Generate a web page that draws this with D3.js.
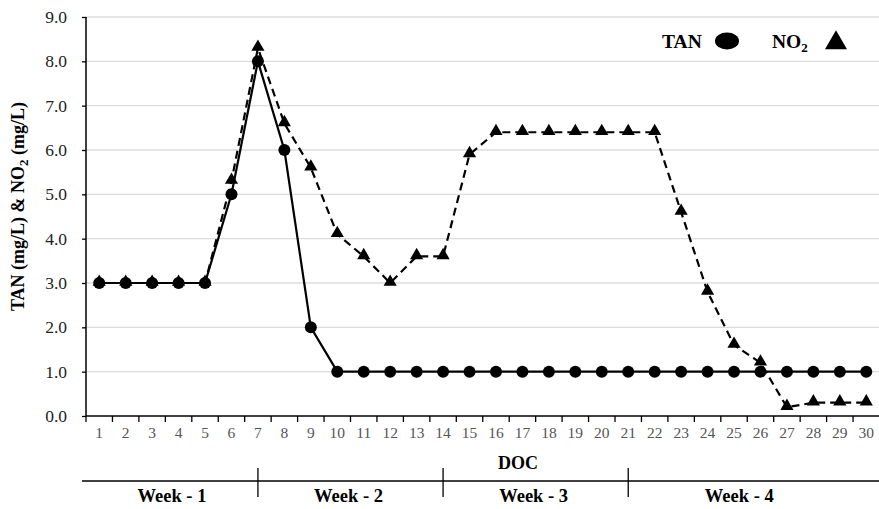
<!DOCTYPE html>
<html><head><meta charset="utf-8">
<script src="https://cdn.jsdelivr.net/npm/d3@7"></script>
<style>body{margin:0;background:#fff}svg{display:block}</style>
</head><body>
<svg id="c" width="879" height="509"></svg>
<script>
const days = d3.range(1, 31);
const tan = [3,3,3,3,3,5,8,6,2,1,1,1,1,1,1,1,1,1,1,1,1,1,1,1,1,1,1,1,1,1];
const no2 = [3,3,3,3,3,5.3,8.3,6.6,5.6,4.1,3.6,3.0,3.6,3.6,5.9,6.4,6.4,6.4,6.4,6.4,6.4,6.4,4.6,2.8,1.6,1.2,0.2,0.3,0.3,0.3];
const yTicks = [0,1,2,3,4,5,6,7,8,9];
const weeks = [{label:"Week - 1", from:1, to:7},{label:"Week - 2", from:7, to:14},{label:"Week - 3", from:14, to:21},{label:"Week - 4", from:21, to:30}];

const svg = d3.select("#c");
const font = "'Liberation Serif', 'Times New Roman', serif";
const L = 86, R = 879.5, T = 17, B = 416;
const x = d3.scaleBand().domain(days).range([L, R]);
const xc = d => x(d) + x.bandwidth()/2;
const y = d3.scaleLinear().domain([0, 9]).range([B, T]);

// gridlines
svg.append("g").selectAll("line").data(yTicks.filter(t=>t>0)).join("line")
  .attr("x1", L).attr("x2", 879).attr("y1", d=>y(d)).attr("y2", d=>y(d))
  .attr("stroke", "#dcdcdc").attr("stroke-width", 1.3);

// y axis
const ya = svg.append("g").attr("transform", `translate(${L},0)`)
  .call(d3.axisLeft(y).tickValues(yTicks).tickFormat(d3.format(".1f")).tickSize(4).tickPadding(15));
ya.select(".domain").attr("stroke", "#000").attr("stroke-width", 1.5).attr("d", `M0,${T}V${B}`);
ya.selectAll(".tick line").attr("stroke", "#000").attr("stroke-width", 1.3);
ya.selectAll("text").attr("font-family", font).attr("font-size", 17.5).attr("fill", "#222");

// x axis
const xa = svg.append("g").attr("transform", `translate(0,${B})`)
  .call(d3.axisBottom(x).tickSize(0).tickPadding(11));
xa.select(".domain").attr("stroke", "#000").attr("stroke-width", 1.5).attr("d", `M${L},0H879`);
xa.selectAll("text").attr("font-family", font).attr("font-size", 15.5).attr("fill", "#555");
svg.append("g").selectAll("line").data(d3.range(0, 30)).join("line")
  .attr("x1", i => L + i*x.step()).attr("x2", i => L + i*x.step())
  .attr("y1", B).attr("y2", B + 6).attr("stroke", "#000").attr("stroke-width", 1.3);

// lines
const line = d3.line().x((d,i)=>xc(days[i])).y(d=>y(d));
svg.append("path").attr("d", line(no2)).attr("fill", "none").attr("stroke", "#000")
  .attr("stroke-width", 2.2).attr("stroke-dasharray", "8,5");
svg.append("path").attr("d", line(tan)).attr("fill", "none").attr("stroke", "#000").attr("stroke-width", 2.2);

// markers
const tri = d3.symbol().type(d3.symbolTriangle).size(75);
svg.append("g").selectAll("path").data(no2).join("path")
  .attr("d", tri).attr("transform", (d,i)=>`translate(${xc(days[i])},${y(d)-1})`).attr("fill", "#000");
svg.append("g").selectAll("circle").data(tan).join("circle")
  .attr("cx", (d,i)=>xc(days[i])).attr("cy", d=>y(d)).attr("r", 6).attr("fill", "#000");

// y label
svg.append("text").attr("transform", `translate(24,${(T+B)/2 - 10}) rotate(-90)`)
  .attr("text-anchor", "middle").attr("font-family", font).attr("font-size", 18).attr("font-weight", "bold")
  .html('TAN (mg/L) &amp; NO<tspan font-size="13" dy="4">2</tspan><tspan dy="-4"> (mg/L)</tspan>');

// DOC
svg.append("text").attr("x", 518).attr("y", 469).attr("text-anchor", "middle")
  .attr("font-family", font).attr("font-size", 18).attr("font-weight", "bold").text("DOC");

// week bar
svg.append("line").attr("x1", 82).attr("x2", 879).attr("y1", 481).attr("y2", 481).attr("stroke", "#000").attr("stroke-width", 1.3);
svg.append("g").selectAll("line").data(weeks.slice(1)).join("line")
  .attr("x1", d=>xc(d.from)).attr("x2", d=>xc(d.from)).attr("y1", 468).attr("y2", 497)
  .attr("stroke", "#000").attr("stroke-width", 1.3);
svg.append("g").selectAll("text").data(weeks).join("text")
  .attr("x", (d,i)=> i===0 ? (82 + xc(7))/2 + 2 : i===3 ? (xc(21)+xc(30))/2 - 8 : (xc(d.from)+xc(d.to))/2 - 2)
  .attr("y", 502).attr("text-anchor", "middle")
  .attr("font-family", font).attr("font-size", 18.5).attr("font-weight", "bold").text(d=>d.label);

// legend
svg.append("text").attr("x", 662).attr("y", 48).attr("font-family", font).attr("font-size", 19.5).attr("font-weight", "bold").text("TAN");
svg.append("ellipse").attr("cx", 727).attr("cy", 41).attr("rx", 12).attr("ry", 8.5).attr("fill", "#000");
svg.append("text").attr("x", 772).attr("y", 48).attr("font-family", font).attr("font-size", 19.5).attr("font-weight", "bold")
  .html('NO<tspan font-size="13" dy="4">2</tspan>');
svg.append("path").attr("d", d3.symbol().type(d3.symbolTriangle).size(210)).attr("transform", "translate(836,43)").attr("fill", "#000");
</script>
</body></html>
